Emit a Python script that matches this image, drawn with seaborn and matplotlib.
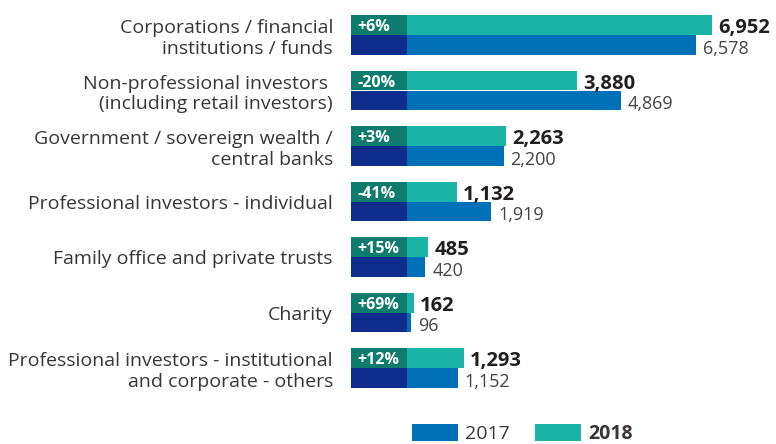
import matplotlib
matplotlib.use('Agg')
import matplotlib.pyplot as plt
import seaborn as sns
import pandas as pd
from matplotlib.patches import Rectangle, Patch

categories = [
    "Corporations / financial\ninstitutions / funds",
    "Non-professional investors \n(including retail investors)",
    "Government / sovereign wealth /\ncentral banks",
    "Professional investors - individual",
    "Family office and private trusts",
    "Charity",
    "Professional investors - institutional\nand corporate - others",
]
values_2018 = [6952, 3880, 2263, 1132, 485, 162, 1293]
values_2017 = [6578, 4869, 2200, 1919, 420, 96, 1152]
changes = ["+6%", "-20%", "+3%", "-41%", "+15%", "+69%", "+12%"]
years = ["2018", "2017"]

TEAL = "#1BB3A5"
BLUE = "#0070B8"
DARK_TEAL = "#0E7B6F"
NAVY = "#0F2D8C"
TXT = "#3A3536"

BOX = 1276     # width of the dark lead-in box, in data units
XMAX = 8405

sns.set_theme(style="white")
plt.rcParams['font.family'] = ['Open Sans', 'DejaVu Sans']

df = pd.DataFrame({
    "category": categories * 2,
    "year": ["2018"] * len(categories) + ["2017"] * len(categories),
    "value": values_2018 + values_2017,
})

fig = plt.figure(figsize=(7.76, 4.44), dpi=100)
ax = fig.add_axes([351 / 776, (444 - 395.75) / 444, (776 - 351) / 776, 388.5 / 444])

sns.barplot(data=df, y="category", x="value", hue="year", hue_order=years,
            order=categories, palette={"2018": TEAL, "2017": BLUE},
            width=0.72, orient="h", legend=False, ax=ax, saturation=1,
            linewidth=0, edgecolor="none")

ax.set_xlim(-BOX, XMAX)
ax.set_ylim(len(categories) - 0.5, -0.5)

c18, c17 = ax.containers[0], ax.containers[1]
for p, v, ch in zip(c18.patches, values_2018, changes):
    ax.add_patch(Rectangle((-BOX, p.get_y()), BOX, p.get_height(),
                           facecolor=DARK_TEAL, edgecolor="none"))
    yc = p.get_y() + p.get_height() / 2
    ax.annotate(f"{v:,}", xy=(p.get_width(), yc), xytext=(6, -3),
                textcoords="offset pixels", va="center", ha="left",
                fontsize=14.5, fontweight="bold", color="#231F20")
    ax.annotate(ch, xy=(-BOX, yc), xytext=(6, -2), textcoords="offset pixels",
                va="center", ha="left", fontsize=11.5, fontweight="bold",
                color="white")
for p, v in zip(c17.patches, values_2017):
    ax.add_patch(Rectangle((-BOX, p.get_y()), BOX, p.get_height(),
                           facecolor=NAVY, edgecolor="none"))
    yc = p.get_y() + p.get_height() / 2
    ax.annotate(f"{v:,}", xy=(p.get_width(), yc), xytext=(7, -4),
                textcoords="offset pixels", va="center", ha="left",
                fontsize=13, color="#444444")

ax.set_xlabel("")
ax.set_ylabel("")
ax.set_xticks([])
ax.tick_params(axis="y", length=0, pad=13)
for t in ax.get_yticklabels():
    t.set_fontsize(14)
    t.set_color(TXT)
for s in ax.spines.values():
    s.set_visible(False)

handles = [Patch(facecolor=BLUE, edgecolor="none", label="2017"),
           Patch(facecolor=TEAL, edgecolor="none", label="2018")]
leg = fig.legend(handles=handles, ncol=2, loc="center left",
                 bbox_to_anchor=(412 / 776, (444 - 434) / 444),
                 frameon=False, fontsize=14, handlelength=2.37,
                 handleheight=1.0, handletextpad=0.36, columnspacing=1.29,
                 borderpad=0, borderaxespad=0)
for t in leg.get_texts():
    t.set_color(TXT)
leg.get_texts()[1].set_fontweight("bold")

fig.savefig("out.png", dpi=100)
